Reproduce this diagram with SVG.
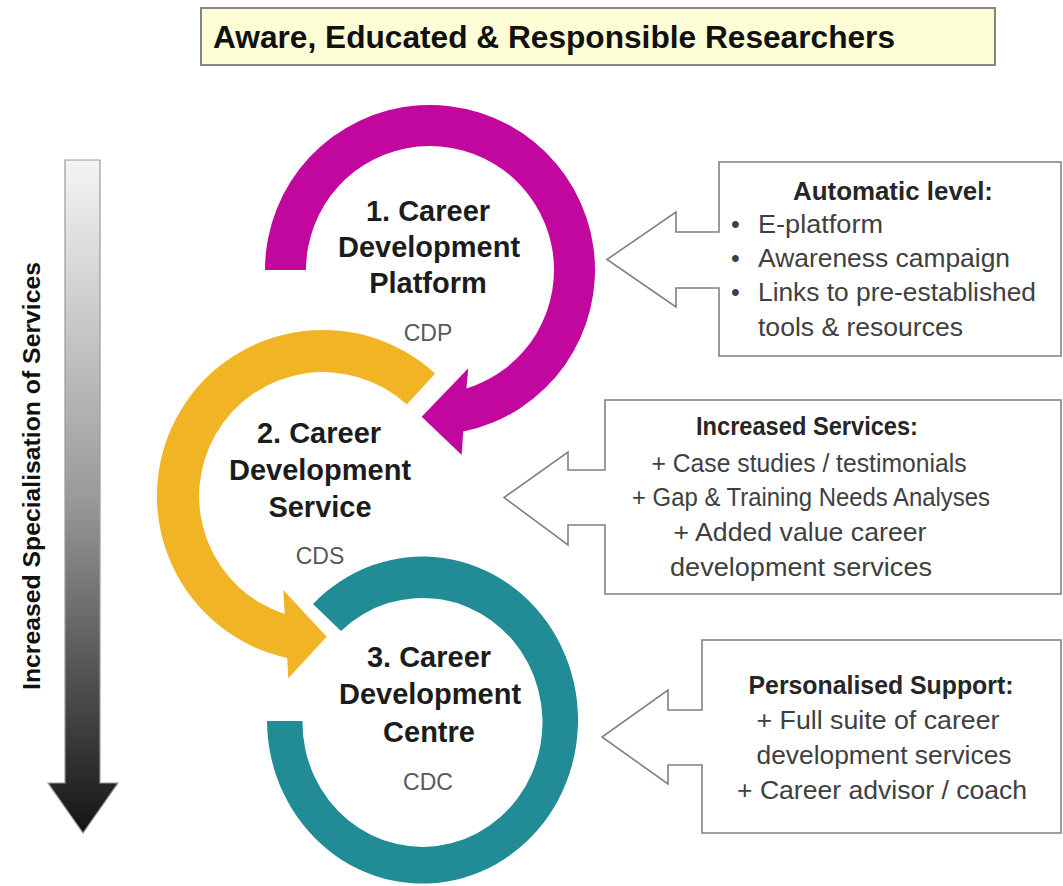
<svg xmlns="http://www.w3.org/2000/svg" width="1063" height="886" viewBox="0 0 1063 886">
  <defs>
    <linearGradient id="gradSpec" gradientUnits="userSpaceOnUse" x1="0" y1="160" x2="0" y2="833">
      <stop offset="0" stop-color="#f4f4f4"/>
      <stop offset="0.5" stop-color="#9a9a9a"/>
      <stop offset="1" stop-color="#141414"/>
    </linearGradient>
  </defs>
  <style>
    .title { font-family: "Liberation Sans", Arial, sans-serif; font-weight: bold; font-size: 31px; fill: #111; }
    .node { font-family: "Liberation Sans", Arial, sans-serif; font-weight: bold; font-size: 29px; fill: #1c1c1c; text-anchor: middle; }
    .abbr { font-family: "Liberation Sans", Arial, sans-serif; font-size: 23px; fill: #595959; text-anchor: middle; }
    .ch { font-family: "Liberation Sans", Arial, sans-serif; font-weight: bold; font-size: 25px; fill: #262626; }
    .ct { font-family: "Liberation Sans", Arial, sans-serif; font-size: 25px; fill: #404040; }
    .mid { text-anchor: middle; }
    .callout { fill: #ffffff; stroke: #808080; stroke-width: 1.6; }
    .side { font-family: "Liberation Sans", Arial, sans-serif; font-weight: bold; font-size: 24px; fill: #111; text-anchor: middle; }
  </style>
  <rect width="1063" height="886" fill="#ffffff"/>

  <g id="title">
    <rect x="201" y="8" width="794" height="57" fill="#fdfdd6" stroke="#858585" stroke-width="2"/>
    <text class="title" x="213" y="48" textLength="682" lengthAdjust="spacingAndGlyphs">Aware, Educated &amp; Responsible Researchers</text>
  </g>

  <g id="specialisation-axis">
    <path d="M65 160 L100 160 L100 783 L118 783 L83 833 L48 783 L65 783 Z" fill="url(#gradSpec)" stroke="#9a9a9a" stroke-width="1.2"/>
    <text class="side" transform="translate(40 476) rotate(-90)" x="0" y="0" textLength="428" lengthAdjust="spacingAndGlyphs">Increased Specialisation of Services</text>
  </g>

  <g id="connectors">
    <path id="arc-cdp" d="M265 270 A165 165 0 1 1 463.2 431.6 L461.7 455 L421.7 416.7 L468.3 368.3 L466.4 388.5 A124 124 0 1 0 306 270 Z" fill="#c2079e"/>
    <path id="arc-cds" d="M435.2 373.6 A166 166 0 1 0 287.2 658 L288.3 678.3 L326.7 636.7 L283.3 590 L284.7 614 A124 124 0 1 1 406.8 404.6 Z" fill="#f1b425"/>
    <path id="ring-cdc" d="M267 721 A155.5 163.5 0 1 0 313 604 L341 631 A120 124.5 0 1 1 302.5 721 Z" fill="#218b96"/>
  </g>

  <g id="node-cdp">
    <text class="node" x="428" y="221">1. Career</text>
    <text class="node" x="429" y="257">Development</text>
    <text class="node" x="428" y="293">Platform</text>
    <text class="abbr" x="428" y="341">CDP</text>
  </g>

  <g id="node-cds">
    <text class="node" x="319" y="443">2. Career</text>
    <text class="node" x="320" y="480">Development</text>
    <text class="node" x="320" y="517">Service</text>
    <text class="abbr" x="320" y="564">CDS</text>
  </g>

  <g id="node-cdc">
    <text class="node" x="429" y="667">3. Career</text>
    <text class="node" x="430" y="704">Development</text>
    <text class="node" x="429" y="742">Centre</text>
    <text class="abbr" x="428" y="790">CDC</text>
  </g>

  <g id="callout-automatic">
    <path class="callout" d="M1061 162 L719 162 L719 232 L676 232 L676 212 L607 259.5 L676 307 L676 288 L719 288 L719 356 L1061 356 Z"/>
    <text class="ch mid" x="893" y="200" textLength="200" lengthAdjust="spacingAndGlyphs">Automatic level:</text>
    <text class="ct" x="731" y="233">•</text>
    <text class="ct" x="758" y="233" textLength="125" lengthAdjust="spacingAndGlyphs">E-platform</text>
    <text class="ct" x="731" y="267">•</text>
    <text class="ct" x="758" y="267" textLength="252" lengthAdjust="spacingAndGlyphs">Awareness campaign</text>
    <text class="ct" x="731" y="301">•</text>
    <text class="ct" x="758" y="301" textLength="278" lengthAdjust="spacingAndGlyphs">Links to pre-established</text>
    <text class="ct" x="758" y="336" textLength="205" lengthAdjust="spacingAndGlyphs">tools &amp; resources</text>
  </g>

  <g id="callout-increased">
    <path class="callout" d="M1061 400 L605 400 L605 470 L568 470 L568 452 L504 497.5 L568 545 L568 525 L605 525 L605 594 L1061 594 Z"/>
    <text class="ch mid" x="807" y="435" textLength="222" lengthAdjust="spacingAndGlyphs">Increased Services:</text>
    <text class="ct mid" x="809" y="472" textLength="315" lengthAdjust="spacingAndGlyphs">+ Case studies / testimonials</text>
    <text class="ct mid" x="811" y="506" textLength="358" lengthAdjust="spacingAndGlyphs">+ Gap &amp; Training Needs Analyses</text>
    <text class="ct mid" x="800" y="541" textLength="253" lengthAdjust="spacingAndGlyphs">+ Added value career</text>
    <text class="ct mid" x="801" y="576" textLength="262" lengthAdjust="spacingAndGlyphs">development services</text>
  </g>

  <g id="callout-personalised">
    <path class="callout" d="M1061 640 L702 640 L702 710 L668 710 L668 690 L602 737 L668 784 L668 765 L702 765 L702 833 L1061 833 Z"/>
    <text class="ch mid" x="881" y="694" textLength="265" lengthAdjust="spacingAndGlyphs">Personalised Support:</text>
    <text class="ct mid" x="878" y="729" textLength="243" lengthAdjust="spacingAndGlyphs">+ Full suite of career</text>
    <text class="ct mid" x="884" y="764" textLength="255" lengthAdjust="spacingAndGlyphs">development services</text>
    <text class="ct mid" x="882" y="799" textLength="290" lengthAdjust="spacingAndGlyphs">+ Career advisor / coach</text>
  </g>
</svg>
